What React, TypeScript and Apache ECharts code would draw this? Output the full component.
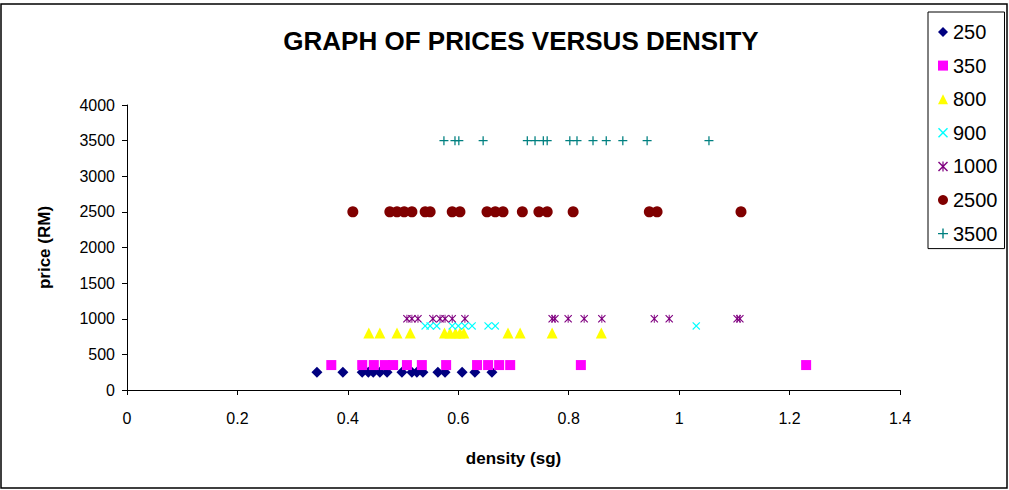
import React, { useEffect, useRef } from "react";
import * as echarts from "echarts";

const TITLE = "GRAPH OF PRICES VERSUS DENSITY";
const X_NAME = "density (sg)";
const Y_NAME = "price (RM)";

const PRICES = [250, 350, 800, 900, 1000, 2500, 3500];

const density250 = [0.344, 0.391, 0.426, 0.437, 0.446, 0.458, 0.471, 0.498, 0.516, 0.525, 0.536, 0.563, 0.576, 0.607, 0.63, 0.661];
const density350 = [0.37, 0.426, 0.447, 0.467, 0.482, 0.507, 0.534, 0.578, 0.634, 0.654, 0.674, 0.694, 0.822, 1.23];
const density800 = [0.438, 0.458, 0.489, 0.513, 0.575, 0.585, 0.595, 0.603, 0.61, 0.69, 0.712, 0.77, 0.859];
const density900 = [0.54, 0.549, 0.561, 0.589, 0.6, 0.612, 0.625, 0.654, 0.667, 1.031];
const density1000 = [0.507, 0.516, 0.527, 0.554, 0.567, 0.576, 0.589, 0.612, 0.77, 0.775, 0.799, 0.828, 0.86, 0.955, 0.982, 1.105, 1.11];
const density2500 = [0.409, 0.476, 0.489, 0.502, 0.516, 0.54, 0.549, 0.589, 0.603, 0.652, 0.667, 0.681, 0.716, 0.746, 0.761, 0.808, 0.946, 0.96, 1.112];
const density3500 = [0.574, 0.594, 0.601, 0.645, 0.725, 0.739, 0.754, 0.761, 0.802, 0.815, 0.844, 0.868, 0.898, 0.942, 1.054];

const DENSITIES = [density250, density350, density800, density900, density1000, density2500, density3500];

const X_PATH = "path://M0,1 L1,0 L5,4 L9,0 L10,1 L6,5 L10,9 L9,10 L5,6 L1,10 L0,9 L4,5 Z";
const STAR_PATH = "path://M0,1 L1,0 L5,4 L9,0 L10,1 L6,5 L10,9 L9,10 L5,6 L1,10 L0,9 L4,5 Z M4.4,0 L5.6,0 L5.6,10 L4.4,10 Z";
const PLUS_PATH = "path://M4.3,0 L5.7,0 L5.7,4.3 L10,4.3 L10,5.7 L5.7,5.7 L5.7,10 L4.3,10 L4.3,5.7 L0,5.7 L0,4.3 L4.3,4.3 Z";

const SYMBOLS = ["diamond", "rect", "triangle", X_PATH, STAR_PATH, "circle", PLUS_PATH];
const SIZES = [11, 10, 11, 8, 8, 11, 9];
const COLORS = ["#000080", "#FF00FF", "#FFFF00", "#00FFFF", "#800080", "#800000", "#008080"];

export default function App() {
  const ref = useRef<HTMLDivElement>(null);
  useEffect(() => {
    document.body.style.margin = "0";
    const chart = echarts.init(ref.current!, null, { renderer: "svg" });
    const font = "'Liberation Sans', Arial, sans-serif";
    chart.setOption({
      animation: false,
      backgroundColor: "#ffffff",
      textStyle: { fontFamily: font },
      title: {
        text: TITLE,
        left: 516,
        textAlign: "center",
        top: 23,
        textStyle: { fontSize: 26, fontWeight: "bold", color: "#000", fontFamily: font },
      },
      graphic: [
        {
          type: "rect",
          shape: { x: 1, y: 4, width: 1006, height: 484 },
          style: { fill: "none", stroke: "#000", lineWidth: 1.5 },
          silent: true,
          z: -1,
        },
      ],
      legend: {
        orient: "vertical",
        left: 928,
        top: 12,
        padding: [10, 7, 5, 10],
        itemGap: 13.6,
        itemWidth: 10,
        itemHeight: 10,
        borderColor: "#000",
        borderWidth: 1,
        backgroundColor: "#fff",
        textStyle: { fontSize: 20, lineHeight: 18, color: "#000", fontFamily: font },
        data: PRICES.map((p) => String(p)),
      },
      grid: { left: 127, right: 109, top: 105, bottom: 100, containLabel: false },
      xAxis: {
        type: "value",
        min: 0,
        max: 1.4,
        interval: 0.2,
        name: X_NAME,
        nameLocation: "middle",
        nameGap: 60,
        nameTextStyle: { fontSize: 17, fontWeight: "bold", color: "#000", fontFamily: font },
        axisLine: { show: true, lineStyle: { color: "#000", width: 1 } },
        axisTick: { show: true, inside: false, length: 5, lineStyle: { color: "#000" } },
        axisLabel: { fontSize: 16, color: "#000", margin: 20, fontFamily: font },
        splitLine: { show: false },
      },
      yAxis: {
        type: "value",
        min: 0,
        max: 4000,
        interval: 500,
        name: Y_NAME,
        nameLocation: "middle",
        nameGap: 74,
        nameTextStyle: { fontSize: 17, fontWeight: "bold", color: "#000", fontFamily: font },
        axisLine: { show: true, lineStyle: { color: "#000", width: 1 } },
        axisTick: { show: true, inside: false, length: 5, lineStyle: { color: "#000" } },
        axisLabel: { fontSize: 16, color: "#000", margin: 12, fontFamily: font, formatter: (v: number) => String(v) },
        splitLine: { show: false },
      },
      series: PRICES.map((p, i) => ({
        name: String(p),
        type: "scatter",
        symbol: SYMBOLS[i],
        symbolSize: SIZES[i],
        itemStyle: { color: COLORS[i], opacity: 1 },
        data: DENSITIES[i].map((d) => [d, p]),
      })),
    });
    return () => chart.dispose();
  }, []);
  return <div ref={ref} style={{ width: 1009, height: 490 }} />;
}
